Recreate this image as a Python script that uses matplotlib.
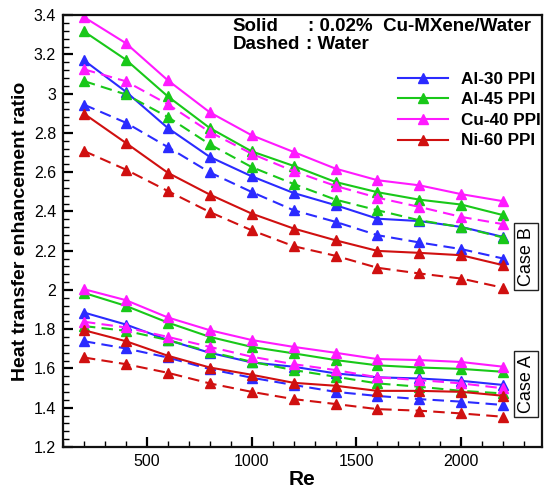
import matplotlib
matplotlib.use("Agg")
import matplotlib.pyplot as plt
from matplotlib.ticker import MultipleLocator
from matplotlib.lines import Line2D

plt.rcParams['font.family'] = ['Liberation Sans', 'DejaVu Sans']

re = [200, 400, 600, 800, 1000, 1200, 1400, 1600, 1800, 2000, 2200]
names = ["Al-30 PPI", "Al-45 PPI", "Cu-40 PPI", "Ni-60 PPI"]
colors = ["#2b2bff", "#19c819", "#ff1aff", "#d01010"]

# Case B, solid (0.02% Cu-MXene/Water)
b_solid = {
    "Al-30 PPI": [3.17, 3.01, 2.825, 2.678, 2.579, 2.494, 2.432, 2.363, 2.351, 2.321, 2.27],
    "Al-45 PPI": [3.317, 3.173, 2.986, 2.825, 2.706, 2.632, 2.55, 2.498, 2.46, 2.435, 2.381],
    "Cu-40 PPI": [3.39, 3.257, 3.068, 2.905, 2.788, 2.703, 2.618, 2.559, 2.533, 2.488, 2.452],
    "Ni-60 PPI": [2.898, 2.749, 2.597, 2.486, 2.389, 2.313, 2.253, 2.199, 2.189, 2.177, 2.126],
}
# Case B, dashed (Water)
b_dash = {
    "Al-30 PPI": [2.944, 2.852, 2.728, 2.599, 2.499, 2.406, 2.347, 2.279, 2.242, 2.208, 2.16],
    "Al-45 PPI": [3.064, 2.996, 2.881, 2.742, 2.626, 2.540, 2.46, 2.406, 2.355, 2.32, 2.267],
    "Cu-40 PPI": [3.124, 3.063, 2.946, 2.805, 2.694, 2.605, 2.53, 2.47, 2.423, 2.372, 2.335],
    "Ni-60 PPI": [2.708, 2.613, 2.504, 2.397, 2.304, 2.223, 2.174, 2.113, 2.084, 2.058, 2.011],
}
# Case A, solid
a_solid = {
    "Al-30 PPI": [1.885, 1.824, 1.745, 1.680, 1.631, 1.609, 1.575, 1.555, 1.549, 1.537, 1.516],
    "Al-45 PPI": [1.985, 1.919, 1.834, 1.761, 1.710, 1.677, 1.643, 1.616, 1.605, 1.598, 1.583],
    "Cu-40 PPI": [2.004, 1.948, 1.860, 1.795, 1.745, 1.710, 1.680, 1.648, 1.643, 1.633, 1.609],
    "Ni-60 PPI": [1.795, 1.739, 1.665, 1.605, 1.568, 1.527, 1.512, 1.486, 1.486, 1.481, 1.461],
}
# Case A, dashed
a_dash = {
    "Al-30 PPI": [1.739, 1.702, 1.656, 1.597, 1.553, 1.516, 1.481, 1.460, 1.444, 1.431, 1.414],
    "Al-45 PPI": [1.816, 1.792, 1.745, 1.685, 1.634, 1.592, 1.558, 1.524, 1.507, 1.486, 1.473],
    "Cu-40 PPI": [1.838, 1.809, 1.761, 1.710, 1.660, 1.622, 1.592, 1.555, 1.541, 1.524, 1.499],
    "Ni-60 PPI": [1.656, 1.622, 1.578, 1.524, 1.481, 1.444, 1.419, 1.393, 1.385, 1.371, 1.354],
}

fig = plt.figure(figsize=(5.5, 4.88), dpi=100)
ax = fig.add_axes([0.1145, 0.084, 0.871, 0.885])

lw = 1.5
ms = 6.8
for name, c in zip(names, colors):
    for d in (b_dash, a_dash):
        ax.plot(re, d[name], color=c, lw=lw, ls=(0, (5.5, 3)), marker='^', ms=ms,
                markeredgecolor=c, markerfacecolor=c)
    for d in (b_solid, a_solid):
        ax.plot(re, d[name], color=c, lw=lw, ls='-', marker='^', ms=ms,
                markeredgecolor=c, markerfacecolor=c)

ax.set_xlim(100, 2385)
ax.set_ylim(1.2, 3.4)
ax.xaxis.set_minor_locator(MultipleLocator(100))
ax.yaxis.set_minor_locator(MultipleLocator(0.04))
ax.set_xticks([500, 1000, 1500, 2000])
ax.set_yticks([1.2, 1.4, 1.6, 1.8, 2.0, 2.2, 2.4, 2.6, 2.8, 3.0, 3.2, 3.4])
ax.set_yticklabels(["1.2", "1.4", "1.6", "1.8", "2", "2.2", "2.4", "2.6", "2.8", "3", "3.2", "3.4"])
ax.tick_params(axis='both', which='major', direction='in', length=7, width=1.6,
               labelsize=11.5, top=False, right=False, pad=5)
ax.tick_params(axis='both', which='minor', direction='in', length=4, width=1.0,
               top=False, right=False)
for s in ax.spines.values():
    s.set_linewidth(1.6)
    s.set_color('#111111')

ax.set_xlabel("Re", fontsize=15, fontweight='bold', labelpad=1)
ax.set_ylabel("Heat transfer enhancement ratio", fontsize=14, fontweight='bold', labelpad=3)

# annotations
fs = 13.5
ax.text(0.354, 0.974, "Solid", transform=ax.transAxes, fontsize=fs, fontweight='bold',
        va='center', ha='left')
ax.text(0.511, 0.974, ": 0.02%  Cu-MXene/Water", transform=ax.transAxes, fontsize=fs,
        fontweight='bold', va='center', ha='left')
ax.text(0.354, 0.932, "Dashed", transform=ax.transAxes, fontsize=fs, fontweight='bold',
        va='center', ha='left')
ax.text(0.507, 0.932, ": Water", transform=ax.transAxes, fontsize=fs,
        fontweight='bold', va='center', ha='left')

handles = [Line2D([0], [0], color=c, lw=lw, marker='^', ms=ms) for c in colors]
leg = ax.legend(handles, names, loc='upper right', bbox_to_anchor=(1.023, 0.897),
                frameon=False, prop={'weight': 'bold', 'size': 12.3},
                handlelength=2.9, handletextpad=0.8, labelspacing=0.33, borderaxespad=0.3)

bbox = dict(boxstyle='square,pad=0.22', facecolor='white', edgecolor='#222222', lw=1.0)
ax.text(0.9666, 0.442, "Case B", transform=ax.transAxes, rotation=90, fontsize=13,
        ha='center', va='center', bbox=bbox)
ax.text(0.9666, 0.146, "Case A", transform=ax.transAxes, rotation=90, fontsize=13,
        ha='center', va='center', bbox=bbox)

fig.savefig("out.png", dpi=100)
